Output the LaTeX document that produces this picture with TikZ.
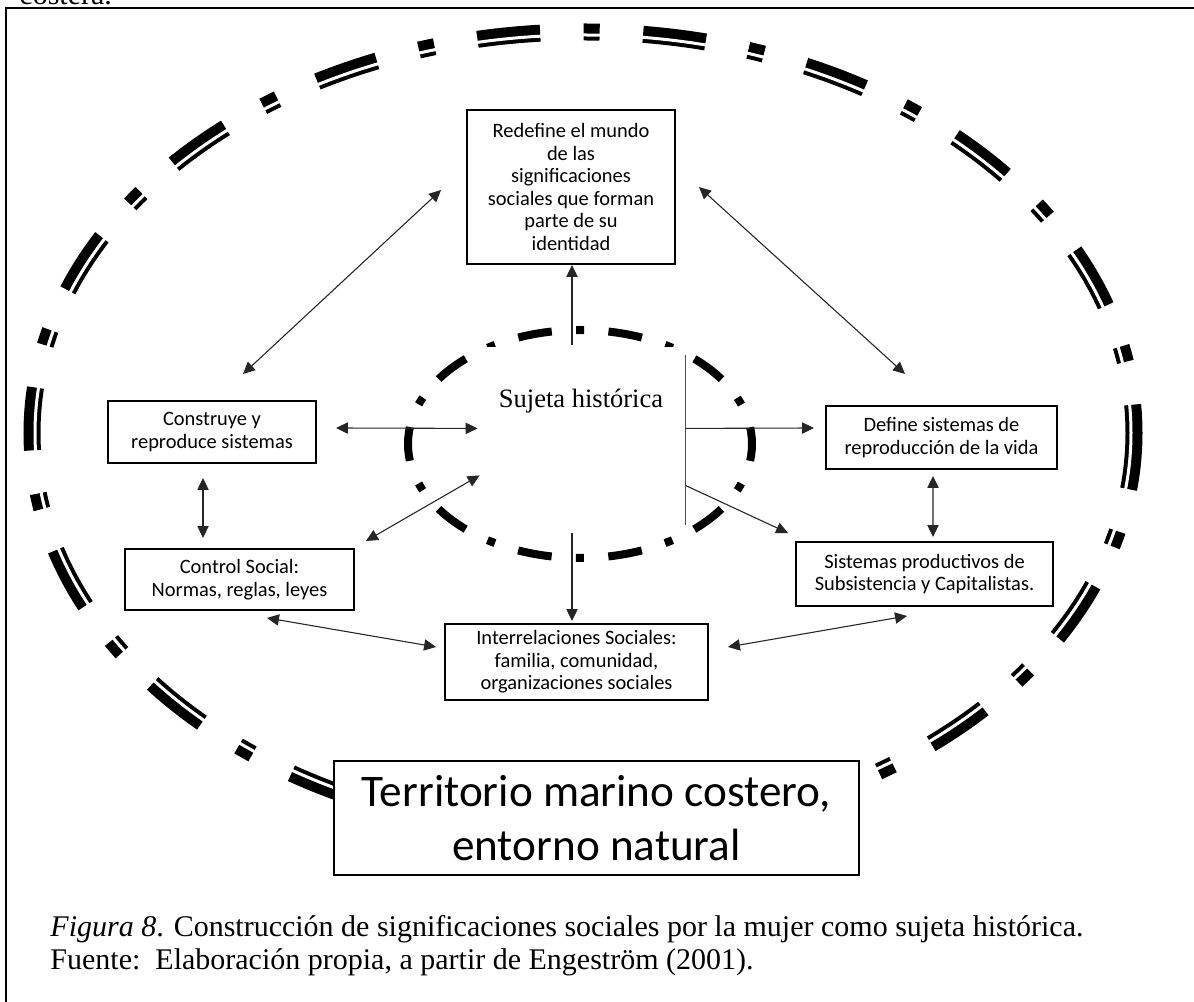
\documentclass[tikz,border=0pt]{standalone}
\usepackage{fontspec}
\setmainfont{Liberation Serif}
\newfontfamily\boxfont{Carlito}
\usetikzlibrary{positioning,arrows.meta}
\newdimen\pxu \pxu=0.46pt

\begin{document}
\begin{tikzpicture}[x=0.46pt, y=-0.46pt,
textbox/.style={rectangle, draw=black, line width=0.9pt, fill=white, align=center, inner sep=0pt, font=\boxfont\fontsize{9.4}{10.4}\selectfont},
link/.style={line width=0.5pt, draw=black!85, -{Triangle[length=5.5pt,width=5.2pt]}},
twoway/.style={line width=0.5pt, draw=black!85, {Triangle[length=5.5pt,width=5.2pt]}-{Triangle[length=5.5pt,width=5.2pt]}},
]
\useasboundingbox (0,0) rectangle (1194,1002);

%Frame
\draw[line width=0.9pt] (6,1002) -- (6,8) -- (1194,8);
\node[anchor=base west, inner sep=0pt, font=\fontsize{13.8}{16}\selectfont] (costera) at (19,5) {costera.};

%Ellipses
\draw[line width=17\pxu, dash pattern=on 63\pxu off 43.5\pxu on 16\pxu off 43.5\pxu, dash phase=6.5\pxu] (583,433) ellipse [x radius=551, y radius=401];
\draw[white, line width=3\pxu] (583,433) ellipse [x radius=548, y radius=398];
\draw[line width=8\pxu, dash pattern=on 34\pxu off 24.4\pxu on 8\pxu off 24.4\pxu, dash phase=17\pxu] (580,444) ellipse [x radius=172, y radius=114];

%Nodes
\node[textbox, minimum width=208\pxu, minimum height=154\pxu] (redefine) at (571,187) {Redefine el mundo\\de las\\significaciones\\sociales que forman\\parte de su\\identidad};
\node[textbox, minimum width=208\pxu, minimum height=62\pxu] (construye) at (212,432) {Construye y\\reproduce sistemas};
\node[textbox, minimum width=229\pxu, minimum height=61\pxu] (control) [below=84\pxu of construye, xshift=27.5\pxu] {Control Social:\\Normas, reglas, leyes};
\node[textbox, minimum width=231\pxu, minimum height=63\pxu] (define) at (941.5,437.5) {Define sistemas de\\reproducción de la vida};
\node[textbox, minimum width=257\pxu, minimum height=64\pxu] (sistemas) at (924.5,574) {Sistemas productivos de\\Subsistencia y Capitalistas.};
\node[textbox, minimum width=263\pxu, minimum height=76\pxu] (interrel) at (576.5,662) {Interrelaciones Sociales:\\familia, comunidad,\\organizaciones sociales};
\node[fill=white, inner sep=0pt, anchor=north, minimum width=208\pxu, text height=60\pxu, text depth=117\pxu, font=\fontsize{12.2}{14}\selectfont] (sujeta) at (581,347) {Sujeta histórica};
\draw[line width=0.4pt, black!70] ([yshift=-8\pxu]sujeta.north east) -- (sujeta.south east);
\node[textbox, minimum width=525\pxu, minimum height=114\pxu, font=\boxfont\fontsize{20.8}{25}\selectfont] (territorio) at (596.5,818) {Territorio marino costero,\\entorno natural};

%Caption
\node[anchor=base west, inner sep=0pt, font=\fontsize{13.8}{16}\selectfont] (capfig) at (50,937) {\textit{Figura 8}. Construcción de significaciones sociales por la mujer como sujeta histórica.};
\node[anchor=base west, inner sep=0pt, font=\fontsize{13.8}{16}\selectfont] (capsrc) at (50,970) {Fuente:\ \ Elaboración propia, a partir de Engeström (2001).};

%Lines
\draw[twoway] ([shift={(-25,3)}]redefine.west) -- ([shift={(31,-26)}]construye.north);
\draw[twoway] ([shift={(23,0)}]redefine.east) -- ([shift={(-36.5,-31)}]define.north);
\draw[twoway] ([shift={(19,-4)}]construye.east) -- ([shift={(1,-7.5)}]sujeta.west);
\draw[twoway] ([shift={(11,-7)}]control.north east) -- ([shift={(3,39.5)}]sujeta.west);
\draw[twoway] ([shift={(-9,14)}]construye.south) -- ([shift={(-36.5,-10)}]control.north);
\draw[twoway] ([shift={(27.5,7)}]control.south) -- ([shift={(-8,-15)}]interrel.west);
\draw[link] ([shift={(-9,-2)}]sujeta.north) -- ([shift={(1,0)}]redefine.south);
\draw[link] ([shift={(-9,8)}]sujeta.south) -- ([shift={(-4.5,-2)}]interrel.north);
\draw[link] ([shift={(0,-7.5)}]sujeta.east) -- ([shift={(-11,-9.5)}]define.west);
\draw[link] ([shift={(0,49.5)}]sujeta.east) -- ([shift={(-7,-8)}]sistemas.north west);
\draw[twoway] ([shift={(-8.5,6)}]define.south) -- ([shift={(8.5,-4)}]sistemas.north);
\draw[twoway] ([shift={(19,-15)}]interrel.east) -- ([shift={(-17.5,9)}]sistemas.south);

\end{tikzpicture}
\end{document}
